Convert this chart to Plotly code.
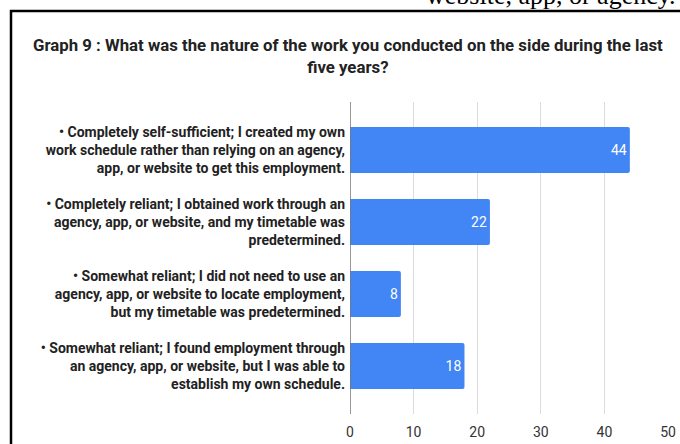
import plotly.graph_objects as go

# Survey answers and response counts
categories = [
    "• Completely self-sufficient; I created my own<br>work schedule rather than relying on an agency,<br>app, or website to get this employment.",
    "• Completely reliant; I obtained work through an<br>agency, app, or website, and my timetable was<br>predetermined.",
    "• Somewhat reliant; I did not need to use an<br>agency, app, or website to locate employment,<br>but my timetable was predetermined.",
    "• Somewhat reliant; I found employment through<br>an agency, app, or website, but I was able to<br>establish my own schedule.",
]
counts = [44, 22, 8, 18]
x_ticks = [0, 10, 20, 30, 40, 50]

title_text = ("Graph 9 : What was the nature of the work you conducted on the side during the last"
              "<br>five years?")
caption_above = "website, app, or agency."

FONT = "Liberation Sans Narrow, Roboto, Arial Narrow, sans-serif"

W, H = 680, 444
ML, MR, MT, MB = 350, 12, 102, 30
PW, PH = W - ML - MR, H - MT - MB


def px_x(x):
    return (x - ML) / PW


def px_y(y):
    return 1 - (y - MT) / PH


fig = go.Figure(
    go.Bar(
        x=counts,
        y=list(range(len(categories))),
        orientation="h",
        width=0.64,
        marker=dict(color="#4285F4", line=dict(width=0)),
        text=counts,
        textposition="inside",
        insidetextanchor="end",
        textfont=dict(color="white", size=14, family=FONT),
        cliponaxis=False,
    )
)

fig.update_layout(
    template="none",
    width=W,
    height=H,
    margin=dict(l=ML, r=MR, t=MT, b=MB, autoexpand=False),
    paper_bgcolor="white",
    plot_bgcolor="white",
    showlegend=False,
    barcornerradius=2,
    font=dict(family=FONT, color="#222222"),
    xaxis=dict(
        range=[0, 50],
        tickvals=x_ticks,
        ticktext=[str(v) for v in x_ticks],
        showgrid=True,
        gridcolor="#dcdcdc",
        gridwidth=1,
        zeroline=False,
        showline=False,
        automargin=False,
        tickfont=dict(size=14, color="#333333", family=FONT),
        ticks="",
        ticklabelstandoff=8,
    ),
    yaxis=dict(
        range=[3.667, -0.667],
        tickvals=list(range(len(categories))),
        ticktext=categories,
        showgrid=False,
        zeroline=False,
        showline=False,
        automargin=False,
        ticks="",
        tickfont=dict(size=14, color="#222222", family=FONT, weight="bold"),
        ticklabelstandoff=4,
    ),
    shapes=[
        # zero axis line
        dict(type="line", xref="x", yref="paper", x0=0, x1=0, y0=0, y1=1,
             line=dict(color="#777777", width=1.5), layer="above"),
        # frame: top and left edges
        dict(type="line", xref="paper", yref="paper",
             x0=px_x(10), x1=px_x(680), y0=px_y(11), y1=px_y(11),
             line=dict(color="black", width=2.5)),
        dict(type="line", xref="paper", yref="paper",
             x0=px_x(11), x1=px_x(11), y0=px_y(10), y1=px_y(444),
             line=dict(color="black", width=2.5)),
    ],
    annotations=[
        dict(text=title_text, xref="paper", yref="paper",
             x=px_x(348), y=px_y(33), xanchor="center", yanchor="top",
             showarrow=False, align="center",
             font=dict(size=16.8, color="#222222", family=FONT, weight="bold")),
        dict(text=caption_above, xref="paper", yref="paper",
             x=px_x(678), y=px_y(12), xanchor="right", yanchor="bottom",
             showarrow=False,
             font=dict(size=26, color="black", family="Liberation Serif, Times New Roman, serif")),
    ],
)

fig.write_html("out.html")
